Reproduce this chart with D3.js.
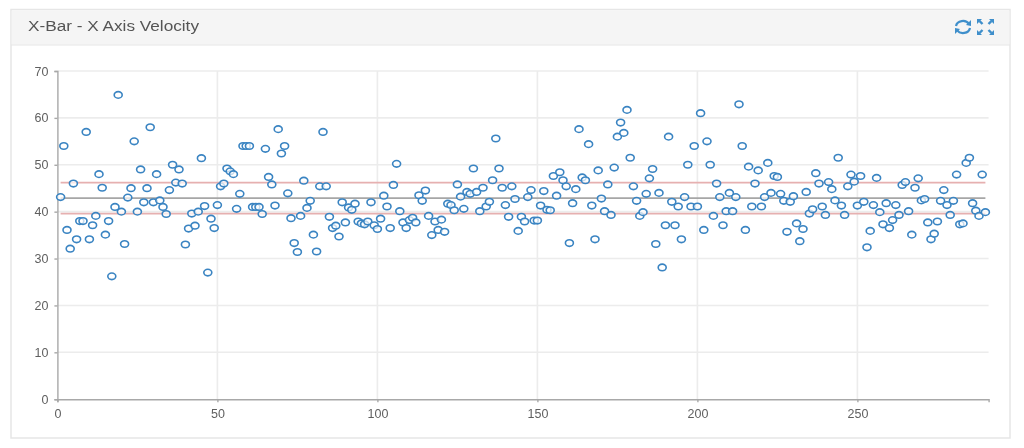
<!DOCTYPE html>
<html lang="en">
<head>
<meta charset="UTF-8">
<title>X-Bar - X Axis Velocity</title>
<script src="https://d3js.org/d3.v7.min.js"></script>
<style>
    html, body { margin: 0; padding: 0; background: #fff; overflow: hidden; }
    svg { display: block; filter: blur(0.7px); }
    .axis text { font-family: "Liberation Sans", sans-serif; font-size: 12.5px; fill: #5f5f5f; }
    .axis path, .axis line { stroke: #a8a8a8; stroke-width: 1.4; }
</style>
</head>
<body>
<div id="output"></div>
<script>

var title = "X-Bar - X Axis Velocity";

var xTicks = [0, 50, 100, 150, 200, 250];
var yTicks = [0, 10, 20, 30, 40, 50, 60, 70];

// sample 1..290
var velocity = [
    43.1, 54, 36.1, 32.1, 46, 34.1, 38, 38, 57, 34.1,
    37.1, 39.1, 48, 45.1, 35.1, 38, 26.2, 41, 64.9, 40,
    33.1, 43, 45, 55, 40, 49, 42, 45, 58, 42,
    48, 42.4, 41, 39.5, 44.6, 50, 46.2, 49, 46, 33,
    36.4, 39.6, 37, 40, 51.4, 41.2, 27, 38.5, 36.5, 41.4,
    45.4, 46, 49.2, 48.6, 48, 40.6, 43.8, 54, 54, 54,
    41, 41, 41, 39.5, 53.4, 47.4, 45.8, 41.3, 57.6, 52.4,
    54, 43.9, 38.6, 33.3, 31.4, 39.1, 46.6, 40.8, 42.3, 35.1,
    31.5, 45.4, 57, 45.4, 38.9, 36.5, 37, 34.7, 42, 37.7,
    40.9, 40.4, 41.7, 37.9, 37.5, 37.3, 37.9, 42, 37.1, 36.3,
    38.5, 43.4, 41.1, 36.5, 45.7, 50.2, 40.1, 37.7, 36.5, 38.2,
    38.7, 37.7, 43.5, 42.3, 44.5, 39.1, 35, 37.9, 36.1, 38.3,
    35.7, 41.7, 41.4, 40.3, 45.8, 43.2, 40.6, 44.2, 43.8, 49.2,
    44.2, 40.1, 45.1, 41.1, 42.1, 46.7, 55.6, 49.2, 45.1, 41.4,
    38.9, 45.4, 42.7, 35.9, 38.9, 37.9, 43.1, 44.6, 38.1, 38.1,
    41.3, 44.4, 40.4, 40.3, 47.6, 43.4, 48.4, 46.7, 45.4, 33.3,
    41.8, 44.8, 57.6, 47.3, 46.7, 54.4, 41.3, 34.1, 48.8, 42.8,
    40.1, 45.8, 39.3, 49.4, 56, 59, 56.8, 61.7, 51.5, 45.4,
    42.3, 39.1, 39.9, 43.8, 47.1, 49.1, 33.1, 44, 28.1, 37.1,
    56, 42.1, 37.1, 41.1, 34.1, 43.1, 50, 41.1, 54, 41.1,
    61, 36.1, 55, 50, 39.1, 46, 43.1, 37.1, 40.1, 44,
    40.1, 43.1, 62.9, 54, 36.1, 49.6, 41.1, 46, 48.8, 41.1,
    43.1, 50.4, 44, 47.6, 47.4, 43.8, 42.3, 35.7, 42.1, 43.3,
    37.5, 33.7, 36.3, 44.2, 39.6, 40.5, 48.2, 46, 41.1, 39.3,
    46.3, 44.8, 42.4, 51.5, 41.3, 39.3, 45.4, 47.9, 46.4, 41.3,
    47.6, 42.1, 32.4, 35.9, 41.4, 47.2, 39.9, 37.3, 41.8, 36.5,
    38.2, 41.4, 39.3, 45.7, 46.3, 40.1, 35.1, 45.1, 47.1, 42.4,
    42.7, 37.7, 34.1, 35.3, 37.9, 42.3, 44.6, 41.4, 39.3, 42.3,
    47.9, 37.3, 37.5, 50.4, 51.5, 41.8, 40.2, 39.1, 47.9, 39.9
];

var meanLine = 42.9;
var upperLimit = 46.2;
var lowerLimit = 39.6;

var w = 1024;
var h = 448;

var svg = d3.select("#output")
            .append("svg")
            .attr("width", w)
            .attr("height", h);

// panel
svg.append("rect")
        .attr("x", 11).attr("y", 9.5)
        .attr("width", 999).attr("height", 428.5)
        .attr("fill", "#fff")
        .attr("stroke", "#e6e6e6")
        .attr("stroke-width", 1.5);
svg.append("rect")
        .attr("x", 11.75).attr("y", 10.25)
        .attr("width", 997.5).attr("height", 34.5)
        .attr("fill", "#f5f5f5");
svg.append("line")
        .attr("x1", 11).attr("x2", 1010)
        .attr("y1", 45).attr("y2", 45)
        .attr("stroke", "#e6e6e6");

// the screenshot is stretched sideways, the title too
svg.append("text")
        .text(title)
        .attr("transform", "translate(28,31) scale(1.11,1)")
        .style("font-family", "Liberation Sans, sans-serif")
        .style("font-size", "15.5px")
        .attr("fill", "#555");

// refresh + expand icons
var iconColor = "#3f8fcb";
var refresh = svg.append("g").attr("transform", "translate(963,27)")
        .attr("fill", "none").attr("stroke", iconColor).attr("stroke-width", 2.2);
refresh.append("path").attr("d", "M-7,-1 A7,6 0 0 1 6,-3");
refresh.append("path").attr("d", "M7,1 A7,6 0 0 1 -6,3");
refresh.append("path").attr("d", "M8,-7 L8,-1 L3,-2 Z").attr("fill", iconColor).attr("stroke", "none");
refresh.append("path").attr("d", "M-8,7 L-8,1 L-3,2 Z").attr("fill", iconColor).attr("stroke", "none");

var expand = svg.append("g").attr("transform", "translate(985.5,27)").attr("fill", iconColor);
[[-1, -1], [1, -1], [-1, 1], [1, 1]].forEach(function(s) {
    var g = expand.append("g").attr("transform", "scale(" + s[0] + "," + s[1] + ")");
    g.append("path").attr("d", "M8.5,8 L3.5,8 L8.5,3 Z");
    g.append("path").attr("d", "M3,3 L6,6").attr("stroke", iconColor).attr("stroke-width", 2.4);
});

var xScale = d3.scaleLinear()
        .domain([0, 291])
        .range([57.4, 988.6]);
var yScale = d3.scaleLinear()
        .domain([0, 70])
        .range([399.2, 71]);

// grid
var grid = svg.append("g")
        .attr("stroke", "#ececec")
        .attr("stroke-width", 1.6);
grid.selectAll(".h")
        .data(yTicks.slice(1))
        .enter().append("line")
            .attr("x1", xScale(0))
            .attr("x2", xScale(291))
            .attr("y1", function(d){ return yScale(d); })
            .attr("y2", function(d){ return yScale(d); });
grid.selectAll(".v")
        .data(xTicks.slice(1))
        .enter().append("line")
            .attr("x1", function(d){ return xScale(d); })
            .attr("x2", function(d){ return xScale(d); })
            .attr("y1", yScale(70))
            .attr("y2", yScale(0));

// axes
var xAxisGen = d3.axisBottom(xScale)
        .tickValues(xTicks)
        .tickSize(3)
        .tickPadding(7);
var yAxisGen = d3.axisLeft(yScale)
        .tickValues(yTicks)
        .tickSize(3)
        .tickPadding(6);

svg.append("g").call(xAxisGen)
        .attr("class", "axis")
        .attr("transform", "translate(0," + yScale(0) + ")");
svg.append("g").call(yAxisGen)
        .attr("class", "axis")
        .attr("transform", "translate(" + xScale(0) + ",0)");

// control lines
var limits = [
    { value: upperLimit, color: "#e6b0b0" },
    { value: lowerLimit, color: "#e6b0b0" },
    { value: meanLine, color: "#a6a6a6" }
];
svg.append("g").selectAll("line")
        .data(limits)
        .enter().append("line")
            .attr("x1", xScale(1))
            .attr("x2", xScale(290))
            .attr("y1", function(d){ return yScale(d.value); })
            .attr("y2", function(d){ return yScale(d.value); })
            .attr("stroke", function(d){ return d.color; })
            .attr("stroke-width", 1.8);

// points
svg.append("g").selectAll("ellipse")
        .data(velocity)
        .enter().append("ellipse")
            .attr("cx", function(d, i){ return xScale(i + 1); })
            .attr("cy", function(d){ return yScale(d); })
            .attr("rx", 4)
            .attr("ry", 3.3)
            .attr("fill", "rgba(255,255,255,0.7)")
            .attr("stroke", "#3a84c2")
            .attr("stroke-width", 1.6);

</script>
</body>
</html>
